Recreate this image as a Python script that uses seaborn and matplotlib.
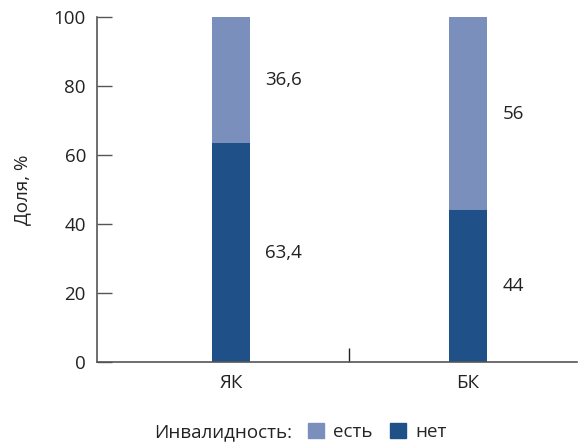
import matplotlib
matplotlib.use("Agg")
import matplotlib.pyplot as plt
import seaborn as sns
import pandas as pd
from matplotlib.patches import Patch

categories = ["ЯК", "БК"]
net_values = [63.4, 44.0]      # "нет"
est_values = [36.6, 56.0]      # "есть"
net_labels = ["63,4", "44"]
est_labels = ["36,6", "56"]
yticks = [0, 20, 40, 60, 80, 100]

LIGHT = "#7B8FBC"
DARK = "#1F5088"
AXC = "#555555"
TXT = "#222222"
FS = 13.5

sns.set_theme(style="white")
plt.rcParams['font.family'] = ['Open Sans', 'DejaVu Sans']

df = pd.DataFrame({
    "cat": categories,
    "net": net_values,
    "total": [n + e for n, e in zip(net_values, est_values)],
})

fig = plt.figure(figsize=(5.79, 4.42), dpi=100)
ax = fig.add_axes([97/579, 80/442, 480/579, 345/442])

sns.barplot(data=df, x="cat", y="total", color=LIGHT, width=0.16,
            saturation=1, ax=ax, linewidth=0)
sns.barplot(data=df, x="cat", y="net", color=DARK, width=0.16,
            saturation=1, ax=ax, linewidth=0)

ax.set_xlim(-0.565, 1.46)
ax.set_ylim(0, 100)
ax.set_yticks(yticks)
ax.set_yticklabels([str(v) for v in yticks], fontsize=FS, color=TXT)
ax.set_xticks([0, 1])
ax.set_xticklabels(categories, fontsize=FS, color=TXT)
ax.set_xticks([0.5], minor=True)
ax.tick_params(axis="x", which="major", length=0, pad=9)
ax.tick_params(axis="x", which="minor", direction="in", length=10,
               width=1, color=TXT, bottom=True)
ax.tick_params(axis="y", direction="in", length=11, width=1,
               color=AXC, pad=8, left=True)
ax.set_xlabel("")
ax.set_ylabel("Доля, %", fontsize=FS, color=TXT, labelpad=16)

for s in ["top", "right"]:
    ax.spines[s].set_visible(False)
for s in ["left", "bottom"]:
    ax.spines[s].set_color(AXC)
    ax.spines[s].set_linewidth(1.2)

for i, (n, e) in enumerate(zip(net_values, est_values)):
    ax.text(i + 0.145, n / 2, net_labels[i], fontsize=FS, color=TXT,
            va="center", ha="left")
    ax.text(i + 0.145, n + e / 2, est_labels[i], fontsize=FS, color=TXT,
            va="center", ha="left")

fig.text(292/579, 10/442, "Инвалидность:", fontsize=FS, color=TXT,
         ha="right", va="center")
handles = [Patch(color=LIGHT, label="есть"), Patch(color=DARK, label="нет")]
fig.legend(handles=handles, loc="center left", bbox_to_anchor=(308/579, 10/442),
           ncol=2, frameon=False, fontsize=FS, handlelength=0.85,
           handleheight=0.85, handletextpad=0.5, columnspacing=0.9,
           borderpad=0, borderaxespad=0)

fig.savefig("out.png", dpi=100)
